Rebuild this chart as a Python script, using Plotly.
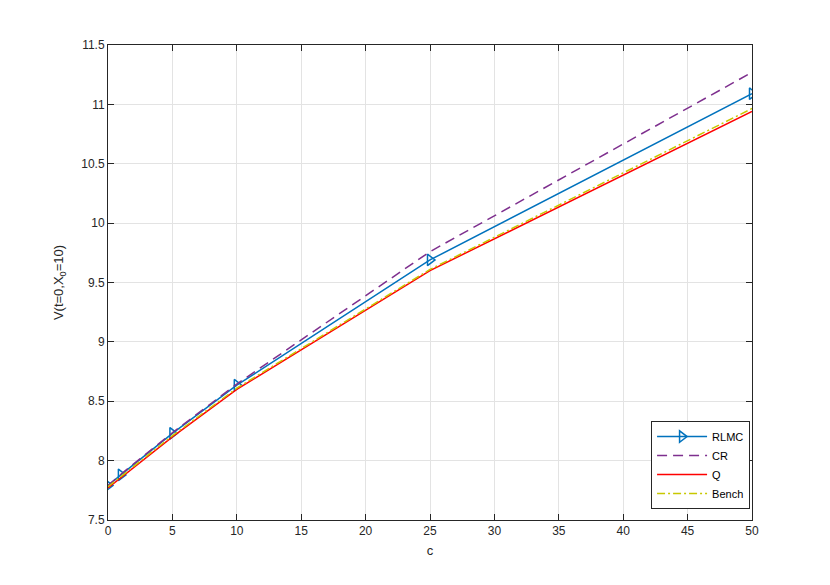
import plotly.graph_objects as go

c_vals = [0, 1, 5, 10, 25, 50]
rlmc = [7.79, 7.88, 8.23, 8.635, 9.69, 11.09]
cr = [7.79, 7.885, 8.235, 8.645, 9.76, 11.27]
q = [7.77, 7.855, 8.20, 8.60, 9.60, 10.94]
bench = [7.78, 7.865, 8.21, 8.61, 9.61, 10.965]

x_ticks = list(range(0, 51, 5))
y_ticks = [7.5, 8, 8.5, 9, 9.5, 10, 10.5, 11, 11.5]
y_tick_text = ["7.5", "8", "8.5", "9", "9.5", "10", "10.5", "11", "11.5"]

FONT = "Liberation Sans, Arial"

fig = go.Figure()
fig.add_trace(go.Scatter(x=c_vals, y=rlmc, name="RLMC", mode="lines+markers",
                         line=dict(color="#0072BD", width=1.5),
                         marker=dict(symbol="triangle-right-open", size=10,
                                     color="#0072BD", line=dict(width=1.5))))
fig.add_trace(go.Scatter(x=c_vals, y=cr, name="CR", mode="lines",
                         line=dict(color="#7E2F8E", width=1.5, dash="10px,6px")))
fig.add_trace(go.Scatter(x=c_vals, y=q, name="Q", mode="lines",
                         line=dict(color="#FF0000", width=1.5)))
fig.add_trace(go.Scatter(x=c_vals, y=bench, name="Bench", mode="lines",
                         line=dict(color="#C8C800", width=1.5, dash="8px,3px,2px,3px")))

axis_common = dict(showgrid=True, gridcolor="#E3E3E3", gridwidth=1,
                   showline=True, linecolor="#262626", linewidth=1,
                   ticks="inside", ticklen=6, tickcolor="#262626",
                   mirror="allticks", zeroline=False,
                   tickfont=dict(family=FONT, size=12, color="#262626"))

fig.update_xaxes(range=[0, 50], tickvals=x_ticks,
                 title=dict(text="c", font=dict(family=FONT, size=13, color="#262626"),
                            standoff=8),
                 **axis_common)
fig.update_yaxes(range=[7.5, 11.5], tickvals=y_ticks, ticktext=y_tick_text,
                 title=dict(text="V(t=0,X<sub>0</sub>=10)",
                            font=dict(family=FONT, size=13, color="#262626"),
                            standoff=14),
                 **axis_common)

fig.update_layout(
    width=830, height=585,
    margin=dict(l=100, r=86, t=37, b=73),
    paper_bgcolor="white", plot_bgcolor="white",
    showlegend=True,
    legend=dict(x=0.997, y=0.023, xanchor="right", yanchor="bottom",
                bgcolor="white", bordercolor="#262626", borderwidth=1,
                font=dict(family=FONT, size=11, color="#000000"),
                tracegroupgap=0, itemwidth=50),
)

fig.write_html("out.html")
